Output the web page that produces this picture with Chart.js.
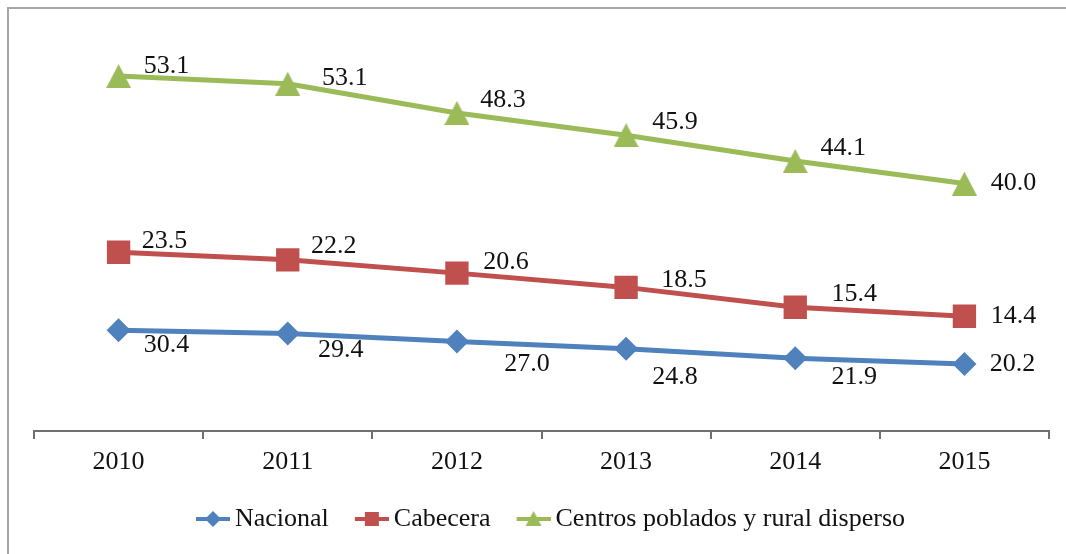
<!DOCTYPE html>
<html>
<head>
<meta charset="utf-8">
<script src="https://cdn.jsdelivr.net/npm/chart.js@4.4.1/dist/chart.umd.min.js"></script>
<style>
  html, body { margin: 0; padding: 0; background: #fff; }
  #wrap { position: relative; width: 1066px; height: 554px; overflow: hidden; }
  #frame { position: absolute; left: 7px; top: 7px; width: 1100px; height: 600px;
           border-left: 2px solid #a6a6a6; border-top: 2px solid #a6a6a6; }
  canvas { position: absolute; left: 0; top: 0; }
</style>
</head>
<body>
<div id="wrap">
  <div id="frame"></div>
  <canvas id="myChart" width="1066" height="554"></canvas>
</div>
<script>
// data (lines are stacked, labels show own values)
const years = ['2010', '2011', '2012', '2013', '2014', '2015'];
const nacional = [30.4, 29.4, 27.0, 24.8, 21.9, 20.2];
const cabecera = [23.5, 22.2, 20.6, 18.5, 15.4, 14.4];
const centros = [53.1, 53.1, 48.3, 45.9, 44.1, 40.0];

const BLUE = '#4f81bd';
const RED = '#c0504d';
const GREEN = '#9bbb59';
const FONT = '"Liberation Serif", "Times New Roman", serif';
const FSIZE = 26;

// excel style triangle (taller than chart.js's equilateral one)
function triangleMark(color, w, h) {
  const c = document.createElement('canvas');
  c.width = w;
  c.height = h;
  const g = c.getContext('2d');
  g.fillStyle = color;
  g.beginPath();
  g.moveTo(w / 2, 0);
  g.lineTo(w, h);
  g.lineTo(0, h);
  g.closePath();
  g.fill();
  return c;
}

// little line+marker images for the legend
function legendMark(color, shape) {
  const c = document.createElement('canvas');
  c.width = 40;
  c.height = 20;
  const g = c.getContext('2d');
  g.strokeStyle = color;
  g.fillStyle = color;
  g.lineWidth = 4;
  g.beginPath();
  g.moveTo(6, 10);
  g.lineTo(40, 10);
  g.stroke();
  const cx = 23, cy = 10;
  g.beginPath();
  if (shape === 'diamond') {
    g.moveTo(cx - 8, cy); g.lineTo(cx, cy - 8); g.lineTo(cx + 8, cy); g.lineTo(cx, cy + 8);
  } else if (shape === 'square') {
    g.rect(cx - 7, cy - 7, 14, 14);
  } else {
    g.moveTo(cx, cy - 8); g.lineTo(cx + 8, cy + 7); g.lineTo(cx - 8, cy + 7);
  }
  g.closePath();
  g.fill();
  return c;
}

const marks = [legendMark(BLUE, 'diamond'), legendMark(RED, 'square'), legendMark(GREEN, 'triangle')];
const tri = triangleMark(GREEN, 25, 24);

// where each value label sits relative to its marker
const labelPlace = [
  { dx: [48, 53, 70, 49, 59, 48], dy: [15, 17, 23, 28, 19, 0] },
  { dx: [46, 46, 49, 58, 59, 49], dy: [-11, -14, -11, -7, -13, 0] },
  { dx: [48, 57, 46, 49, 48, 49], dy: [-10, -6, -13, -13, -13, 0] }
];

const valueLabels = {
  id: 'valueLabels',
  afterDatasetsDraw(chart) {
    const ctx = chart.ctx;
    ctx.save();
    ctx.font = FSIZE + 'px ' + FONT;
    ctx.fillStyle = '#111';
    ctx.textAlign = 'center';
    ctx.textBaseline = 'middle';
    chart.data.datasets.forEach((ds, i) => {
      const meta = chart.getDatasetMeta(i);
      meta.data.forEach((pt, j) => {
        ctx.fillText(ds.data[j].toFixed(1), pt.x + labelPlace[i].dx[j], pt.y + labelPlace[i].dy[j]);
      });
    });
    ctx.restore();
  }
};

const ctx = document.getElementById('myChart');
const myChart = new Chart(ctx, {
  type: 'line',
  data: {
    labels: years,
    datasets: [{
      label: 'Nacional',
      data: nacional,
      borderColor: BLUE,
      backgroundColor: BLUE,
      borderWidth: 5,
      pointStyle: 'rectRot',
      pointRadius: 12,
      pointBorderWidth: 0
    }, {
      label: 'Cabecera',
      data: cabecera,
      borderColor: RED,
      backgroundColor: RED,
      borderWidth: 5,
      pointStyle: 'rect',
      pointRadius: 16.5,
      pointBorderWidth: 0
    }, {
      label: 'Centros poblados y rural disperso',
      data: centros,
      borderColor: GREEN,
      backgroundColor: GREEN,
      borderWidth: 5,
      pointStyle: tri,
      pointRadius: 12,
      pointBorderWidth: 0
    }]
  },
  options: {
    responsive: false,
    animation: false,
    layout: { padding: { left: 34, right: -3, top: 33, bottom: 12 } },
    scales: {
      x: {
        offset: true,
        grid: { offset: true, drawOnChartArea: false, drawTicks: true, tickLength: 8, color: '#707070', lineWidth: 2 },
        border: { display: true, color: '#707070', width: 2 },
        ticks: { color: '#111', padding: 8, font: { family: FONT, size: FSIZE } },
        afterFit: (scale) => { scale.height = 47; }
      },
      y: {
        position: 'right',
        stacked: true,
        min: 0,
        max: 120,
        grid: { display: false },
        border: { display: false },
        ticks: { display: false },
        afterFit: (scale) => { scale.width = 20; }
      }
    },
    plugins: {
      tooltip: { enabled: false },
      legend: {
        position: 'bottom',
        labels: {
          usePointStyle: true,
          pointStyleWidth: 24,
          padding: 28,
          color: '#111',
          font: { family: FONT, size: FSIZE },
          generateLabels: (chart) => chart.data.datasets.map((ds, i) => ({
            text: ds.label,
            fillStyle: ds.borderColor,
            strokeStyle: ds.borderColor,
            lineWidth: 0,
            pointStyle: marks[i],
            hidden: false,
            datasetIndex: i,
            fontColor: '#111'
          }))
        }
      }
    }
  },
  plugins: [valueLabels]
});
</script>
</body>
</html>
